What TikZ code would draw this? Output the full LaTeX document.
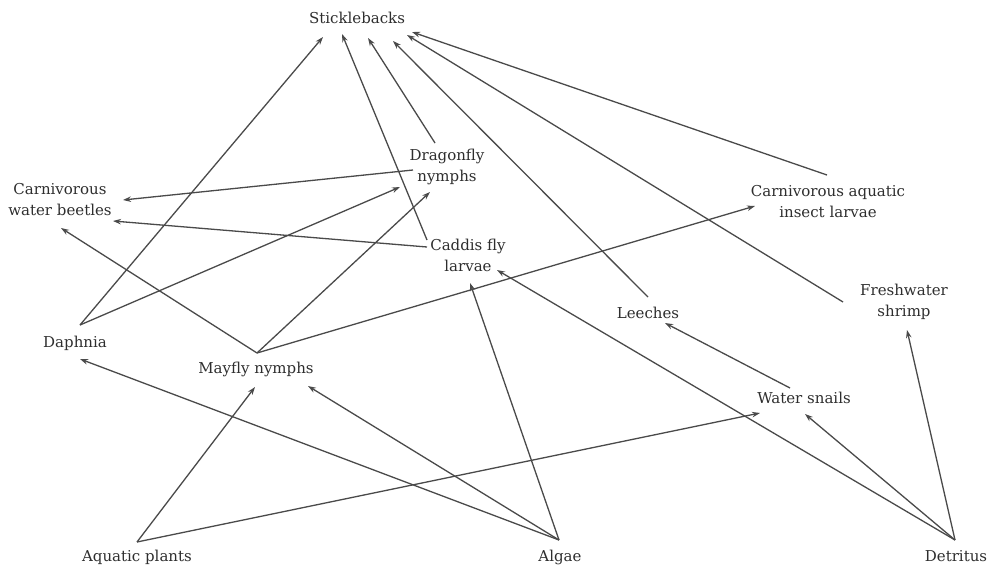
\documentclass[tikz,border=0pt]{standalone}
\usepackage{fontspec}
\setmainfont{DejaVu Serif}
\usepackage{tikz}
\usetikzlibrary{arrows.meta}
\definecolor{inkgray}{HTML}{2E2E2E}
\definecolor{linegray}{HTML}{4A4A4A}

\begin{document}
\begin{tikzpicture}[
    x=1pt, y=-1pt,
    organism/.style={text=inkgray, align=center, inner sep=1pt,
                     font=\fontsize{15}{21}\selectfont},
    eaten/.style={-{Stealth[length=8pt, width=5.5pt]}, draw=linegray, line width=1.3pt}
]
\useasboundingbox (0,0) rectangle (992,570);

% Top consumer
\node[organism] (stickle) at (357,18) {Sticklebacks};

% Predators
\node[organism] (beetles) at (60,200) {Carnivorous\\water beetles};
\node[organism] (dragon) at (447,167) {Dragonfly\\nymphs};
\node[organism] (caddis) at (468,255) {Caddis fly\\larvae};
\node[organism] (cail) at (828,202) {Carnivorous aquatic\\insect larvae};

% Grazers
\node[organism] (shrimp) at (904,302) {Freshwater\\shrimp};
\node[organism] (leech) at (648,313) {Leeches};
\node[organism] (daph) at (75,343) {Daphnia};
\node[organism] (mayfly) at (256,369) {Mayfly nymphs};
\node[organism] (snails) at (804,398) {Water snails};

% Producers
\node[organism] (plants) at (137,557) {Aquatic plants};
\node[organism] (algae) at (560,557) {Algae};
\node[organism] (detritus) at (956,556) {Detritus};

% Sticklebacks
\draw[eaten] ([shift={(5,-18)}]daph.center) -- ([shift={(-34,19)}]stickle.center);
\draw[eaten] ([shift={(-41,-15)}]caddis.center) -- ([shift={(-15,16)}]stickle.center);
\draw[eaten] ([shift={(-12,-24)}]dragon.center) -- ([shift={(11,20)}]stickle.center);
\draw[eaten] ([shift={(0,-16)}]leech.center) -- ([shift={(36,23)}]stickle.center);
\draw[eaten] ([shift={(-61,0)}]shrimp.center) -- ([shift={(50,17)}]stickle.center);
\draw[eaten] ([shift={(-1,-27)}]cail.center) -- ([shift={(55,14)}]stickle.center);

% Carnivorous water beetles
\draw[eaten] ([shift={(-34,3)}]dragon.center) -- ([shift={(63,0)}]beetles.center);
\draw[eaten] ([shift={(-41,-8)}]caddis.center) -- ([shift={(53,21)}]beetles.center);
\draw[eaten] ([shift={(1,-16)}]mayfly.center) -- ([shift={(1,28)}]beetles.center);

% Dragonfly nymphs
\draw[eaten] ([shift={(5,-18)}]daph.center) -- ([shift={(-47,20)}]dragon.center);
\draw[eaten] ([shift={(1,-16)}]mayfly.center) -- ([shift={(-17,25)}]dragon.center);

% Carnivorous aquatic insect larvae
\draw[eaten] ([shift={(1,-16)}]mayfly.center) -- ([shift={(-73,4)}]cail.center);

% Caddis fly larvae
\draw[eaten] ([shift={(-1,-17)}]algae.center) -- ([shift={(2,28)}]caddis.center);
\draw[eaten] ([shift={(-1,-16)}]detritus.center) -- ([shift={(29,15)}]caddis.center);

% Leeches
\draw[eaten] ([shift={(-14,-10)}]snails.center) -- ([shift={(17,10)}]leech.center);

% Freshwater shrimp
\draw[eaten] ([shift={(-1,-16)}]detritus.center) -- ([shift={(3,28)}]shrimp.center);

% Water snails
\draw[eaten] ([shift={(0,-15)}]plants.center) -- ([shift={(-44,15)}]snails.center);
\draw[eaten] ([shift={(-1,-16)}]detritus.center) -- ([shift={(1,16)}]snails.center);

% Daphnia
\draw[eaten] ([shift={(-1,-17)}]algae.center) -- ([shift={(5,16)}]daph.center);

% Mayfly nymphs
\draw[eaten] ([shift={(0,-15)}]plants.center) -- ([shift={(-1,18)}]mayfly.center);
\draw[eaten] ([shift={(-1,-17)}]algae.center) -- ([shift={(52,17)}]mayfly.center);

\end{tikzpicture}
\end{document}
